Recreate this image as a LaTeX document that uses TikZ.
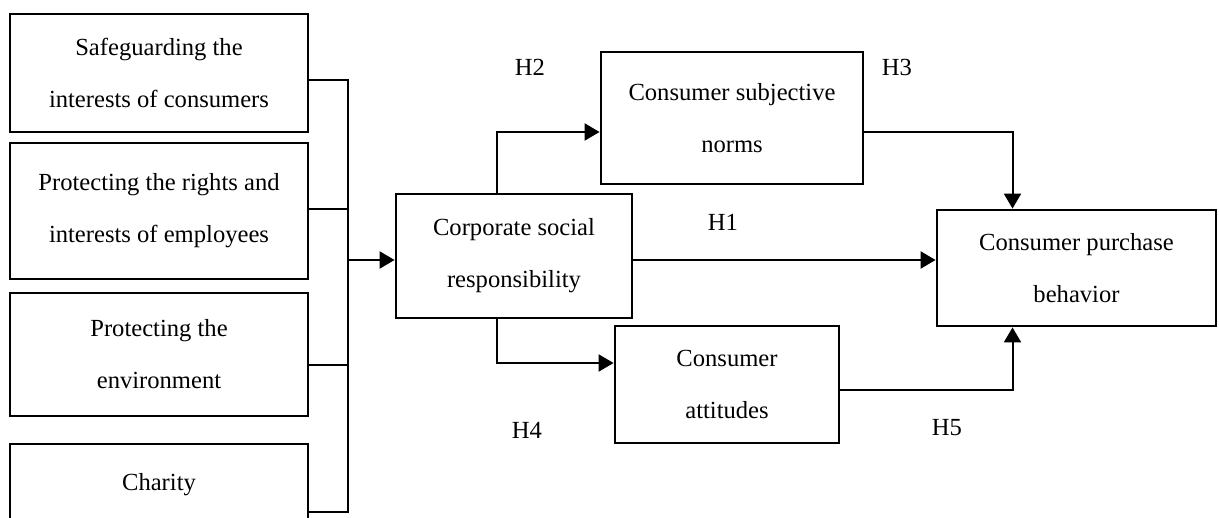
\documentclass[tikz,border=0pt]{standalone}
\usepackage{fontspec}
\setmainfont{Liberation Serif}
\usetikzlibrary{arrows.meta}

\tikzset{
	factor/.style={draw, line width=1.4pt, align=center, inner sep=0pt, font=\fontsize{12.3}{26}\selectfont},
	hyp/.style={font=\fontsize{12.3}{15}\selectfont},
	link/.style={line width=1pt},
	arrow/.style={line width=1pt, -{Triangle[length=7.5pt,width=8.5pt]}}
}

\begin{document}
\begin{tikzpicture}[x=0.5pt,y=-0.5pt]
\useasboundingbox (0,0) rectangle (1219,518);

\node (consumers) at (159,73) [factor,minimum width=149pt,minimum height=59pt] {Safeguarding the\\interests of consumers};
\node (employees) at (159,211) [factor,minimum width=149pt,minimum height=68pt] {Protecting the rights and\\interests of employees};
\node (environment) at (159,354.5) [factor,minimum width=149pt,minimum height=61.5pt] {Protecting the\\environment};
\node (charity) at (159,485) [factor,minimum width=149pt,minimum height=41pt] {Charity};

\node (csr) at (514,256) [factor,minimum width=118pt,minimum height=62pt] {Corporate social\\responsibility};
\node (norms) at (732,118) [factor,minimum width=131pt,minimum height=66pt] {Consumer subjective\\norms};
\node (attitudes) at (727,384.5) [factor,minimum width=112pt,minimum height=58.5pt] {Consumer\\attitudes};
\node (purchase) at (1076.5,268) [factor,minimum width=139.5pt,minimum height=58pt] {Consumer purchase\\behavior};

\node (h1) at (723,222) [hyp] {H1};
\node (h2) at (530,67) [hyp] {H2};
\node (h3) at (897,67) [hyp] {H3};
\node (h4) at (527,430) [hyp] {H4};
\node (h5) at (947,428) [hyp] {H5};

\coordinate (bustop) at (348,80);
\coordinate (busbottom) at (348,512);

\draw [link] ([yshift=-3.5pt]consumers.east) -- (bustop) -- (busbottom) -- ([yshift=-13.5pt]charity.east);
\draw [link] ([yshift=1pt]employees.east) -- ([yshift=1pt]employees.east -| bustop);
\draw [link] ([yshift=-5.25pt]environment.east) -- ([yshift=-5.25pt]environment.east -| bustop);
\draw [arrow] ([yshift=-2pt]csr.west -| bustop) -- ([yshift=-2pt]csr.west);

\draw [arrow] ([xshift=-8.5pt]csr.north) |- ([yshift=-7pt]norms.west);
\draw [arrow] ([xshift=-8.5pt]csr.south) |- ([yshift=10.75pt]attitudes.west);
\draw [arrow] ([yshift=-2pt]csr.east) -- ([yshift=-2pt]csr.east -| purchase.west);
\draw [arrow] ([yshift=-7pt]norms.east) -| ([xshift=-32pt]purchase.north);
\draw [arrow] ([yshift=-2.75pt]attitudes.east) -| ([xshift=-32pt]purchase.south);

\end{tikzpicture}
\end{document}
